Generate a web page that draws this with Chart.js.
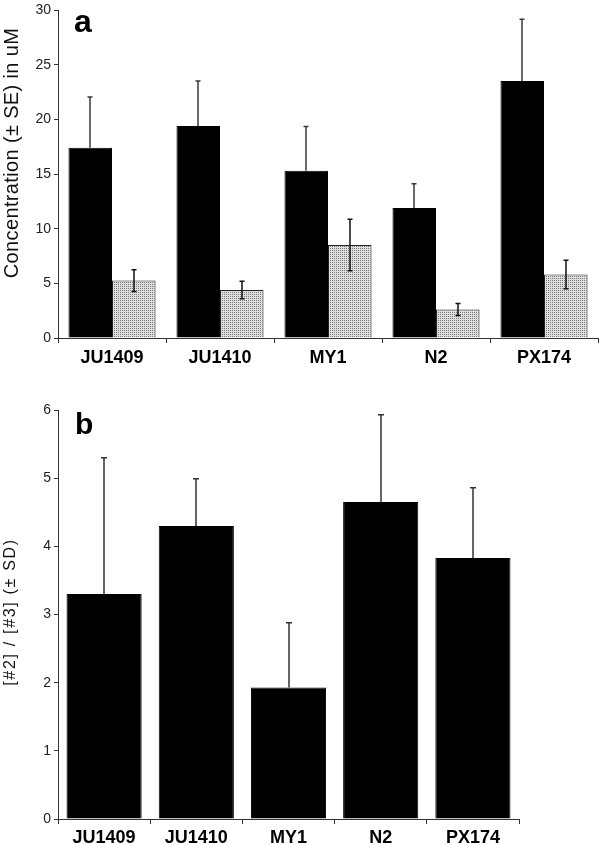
<!DOCTYPE html>
<html><head><meta charset="utf-8">
<script src="https://cdn.jsdelivr.net/npm/chart.js@4.4.1/dist/chart.umd.min.js"></script>
<style>
html,body{margin:0;padding:0;background:#fff;width:600px;height:844px;overflow:hidden;}
#w1{position:absolute;left:0;top:0;width:600px;height:370px;}
#w2{position:absolute;left:0;top:380px;width:600px;height:464px;}
</style></head><body>
<div id="w1"><canvas id="c1"></canvas></div>
<div id="w2"><canvas id="c2"></canvas></div>
<script>
// ---- data ----
const strains = ['JU1409', 'JU1410', 'MY1', 'N2', 'PX174'];
const concBlack = [17.4, 19.4, 15.3, 11.9, 23.5];
const concBlackSE = [4.65, 4.1, 4.05, 2.2, 5.65];
const concGray = [5.25, 4.4, 8.5, 2.6, 5.8];
const concGraySE = [1.0, 0.8, 2.35, 0.55, 1.3];
const ratio = [3.3, 4.3, 1.93, 4.65, 3.83];
const ratioSD = [2.0, 0.69, 0.95, 1.28, 1.03];
const titleA = 'Concentration (± SE) in uM';
const titleB = '[#2] / [#3] (± SD)';

const F = "'Liberation Sans', Arial, Helvetica, sans-serif";

function makePattern() {
  const p = document.createElement('canvas');
  p.width = 2; p.height = 2;
  const g = p.getContext('2d');
  g.fillStyle = '#dedede'; g.fillRect(0, 0, 2, 2);
  g.fillStyle = '#7a7a7a'; g.fillRect(0, 0, 1, 1);
  return document.getElementById('c1').getContext('2d').createPattern(p, 'repeat');
}

function errPlugin(sets) {
  return {
    id: 'errbars',
    afterDatasetsDraw(chart) {
      const ctx = chart.ctx, ys = chart.scales.y;
      sets.forEach(s => {
        const meta = chart.getDatasetMeta(s.index);
        const vals = chart.data.datasets[s.index].data;
        meta.data.forEach((el, j) => {
          const v = vals[j], e = s.err[j];
          const x = Math.round(el.x);
          const yt = ys.getPixelForValue(v + e);
          const yb = s.both ? ys.getPixelForValue(v - e) : el.y;
          ctx.save();
          ctx.strokeStyle = s.color; ctx.lineWidth = s.width;
          ctx.beginPath();
          ctx.moveTo(x, yb); ctx.lineTo(x, yt);
          ctx.moveTo(x - s.cap, yt); ctx.lineTo(x + s.cap, yt);
          if (s.both) { ctx.moveTo(x - s.cap, yb); ctx.lineTo(x + s.cap, yb); }
          ctx.stroke();
          ctx.restore();
        });
      });
    }
  };
}

function textPlugin(o) {
  return {
    id: 'texts',
    afterDraw(chart) {
      const ctx = chart.ctx;
      ctx.save();
      ctx.fillStyle = '#000';
      ctx.font = 'bold ' + o.letterSize + 'px ' + F;
      ctx.textAlign = 'left'; ctx.textBaseline = 'alphabetic';
      ctx.fillText(o.letter, o.lx, o.ly);
      ctx.restore();
      ctx.save();
      ctx.fillStyle = '#111';
      ctx.font = o.titleSize + 'px ' + F;
      ctx.translate(o.tx, o.ty);
      ctx.rotate(-Math.PI / 2);
      ctx.textAlign = 'center'; ctx.textBaseline = 'middle';
      const w = ctx.measureText(o.title).width;
      if ('letterSpacing' in ctx && o.len > w) {
        ctx.letterSpacing = ((o.len - w) / (o.title.length - 1)).toFixed(2) + 'px';
      } else if (o.len) {
        ctx.scale(o.len / w, 1);
      }
      ctx.fillText(o.title, 0, 0);
      ctx.restore();
    }
  };
}

const pattern = makePattern();

function xAxis(h, pad) {
  return {
    grid: { display: true, drawOnChartArea: false, drawTicks: true, tickLength: 5, color: '#333', offset: true },
    border: { display: true, color: '#333', width: 1 },
    ticks: { font: { family: F, size: 18, weight: 'bold', lineHeight: 1 }, color: '#000', padding: pad, maxRotation: 0, autoSkip: false },
    afterFit(s) { s.height = h; }
  };
}
function yAxis(max, step) {
  return {
    min: 0, max: max,
    ticks: { stepSize: step, font: { family: F, size: 14, lineHeight: 1 }, color: '#222', padding: 3 },
    grid: { drawOnChartArea: false, drawTicks: true, tickLength: 4, color: '#333' },
    border: { display: true, color: '#333', width: 1 },
    afterFit(s) { s.width = 58; }
  };
}

new Chart(document.getElementById('c1'), {
  type: 'bar',
  data: {
    labels: strains,
    datasets: [
      { label: 'black', data: concBlack, backgroundColor: '#000', borderColor: '#000', borderWidth: 1 },
      { label: 'gray', data: concGray, backgroundColor: pattern, borderColor: '#222', borderWidth: 1 }
    ]
  },
  options: {
    responsive: true, maintainAspectRatio: false, animation: false,
    layout: { padding: { top: 7, right: 2, left: 0, bottom: 0 } },
    datasets: { bar: { categoryPercentage: 0.806, barPercentage: 1.0 } },
    plugins: { legend: { display: false }, tooltip: { enabled: false } },
    scales: { x: xAxis(32, 6), y: yAxis(30, 5) }
  },
  plugins: [
    errPlugin([
      { index: 0, err: concBlackSE, both: false, color: '#3a3a3a', width: 1.5, cap: 2.5 },
      { index: 1, err: concGraySE, both: true, color: '#111', width: 1.5, cap: 2.5 }
    ]),
    textPlugin({ letter: 'a', letterSize: 32, lx: 74, ly: 32, title: titleA, titleSize: 20, tx: 12, ty: 153, len: 250 })
  ]
});

new Chart(document.getElementById('c2'), {
  type: 'bar',
  data: {
    labels: strains,
    datasets: [
      { label: 'ratio', data: ratio, backgroundColor: '#000', borderColor: '#000', borderWidth: 1 }
    ]
  },
  options: {
    responsive: true, maintainAspectRatio: false, animation: false,
    layout: { padding: { top: 30, right: 81, left: 0, bottom: 0 } },
    datasets: { bar: { categoryPercentage: 1.0, barPercentage: 0.815 } },
    plugins: { legend: { display: false }, tooltip: { enabled: false } },
    scales: { x: xAxis(25, 5), y: yAxis(6, 1) }
  },
  plugins: [
    errPlugin([
      { index: 0, err: ratioSD, both: false, color: '#333', width: 1.5, cap: 3 }
    ]),
    textPlugin({ letter: 'b', letterSize: 30, lx: 75, ly: 54, title: titleB, titleSize: 16, tx: 11, ty: 232, len: 146 })
  ]
});
</script>
</body></html>
